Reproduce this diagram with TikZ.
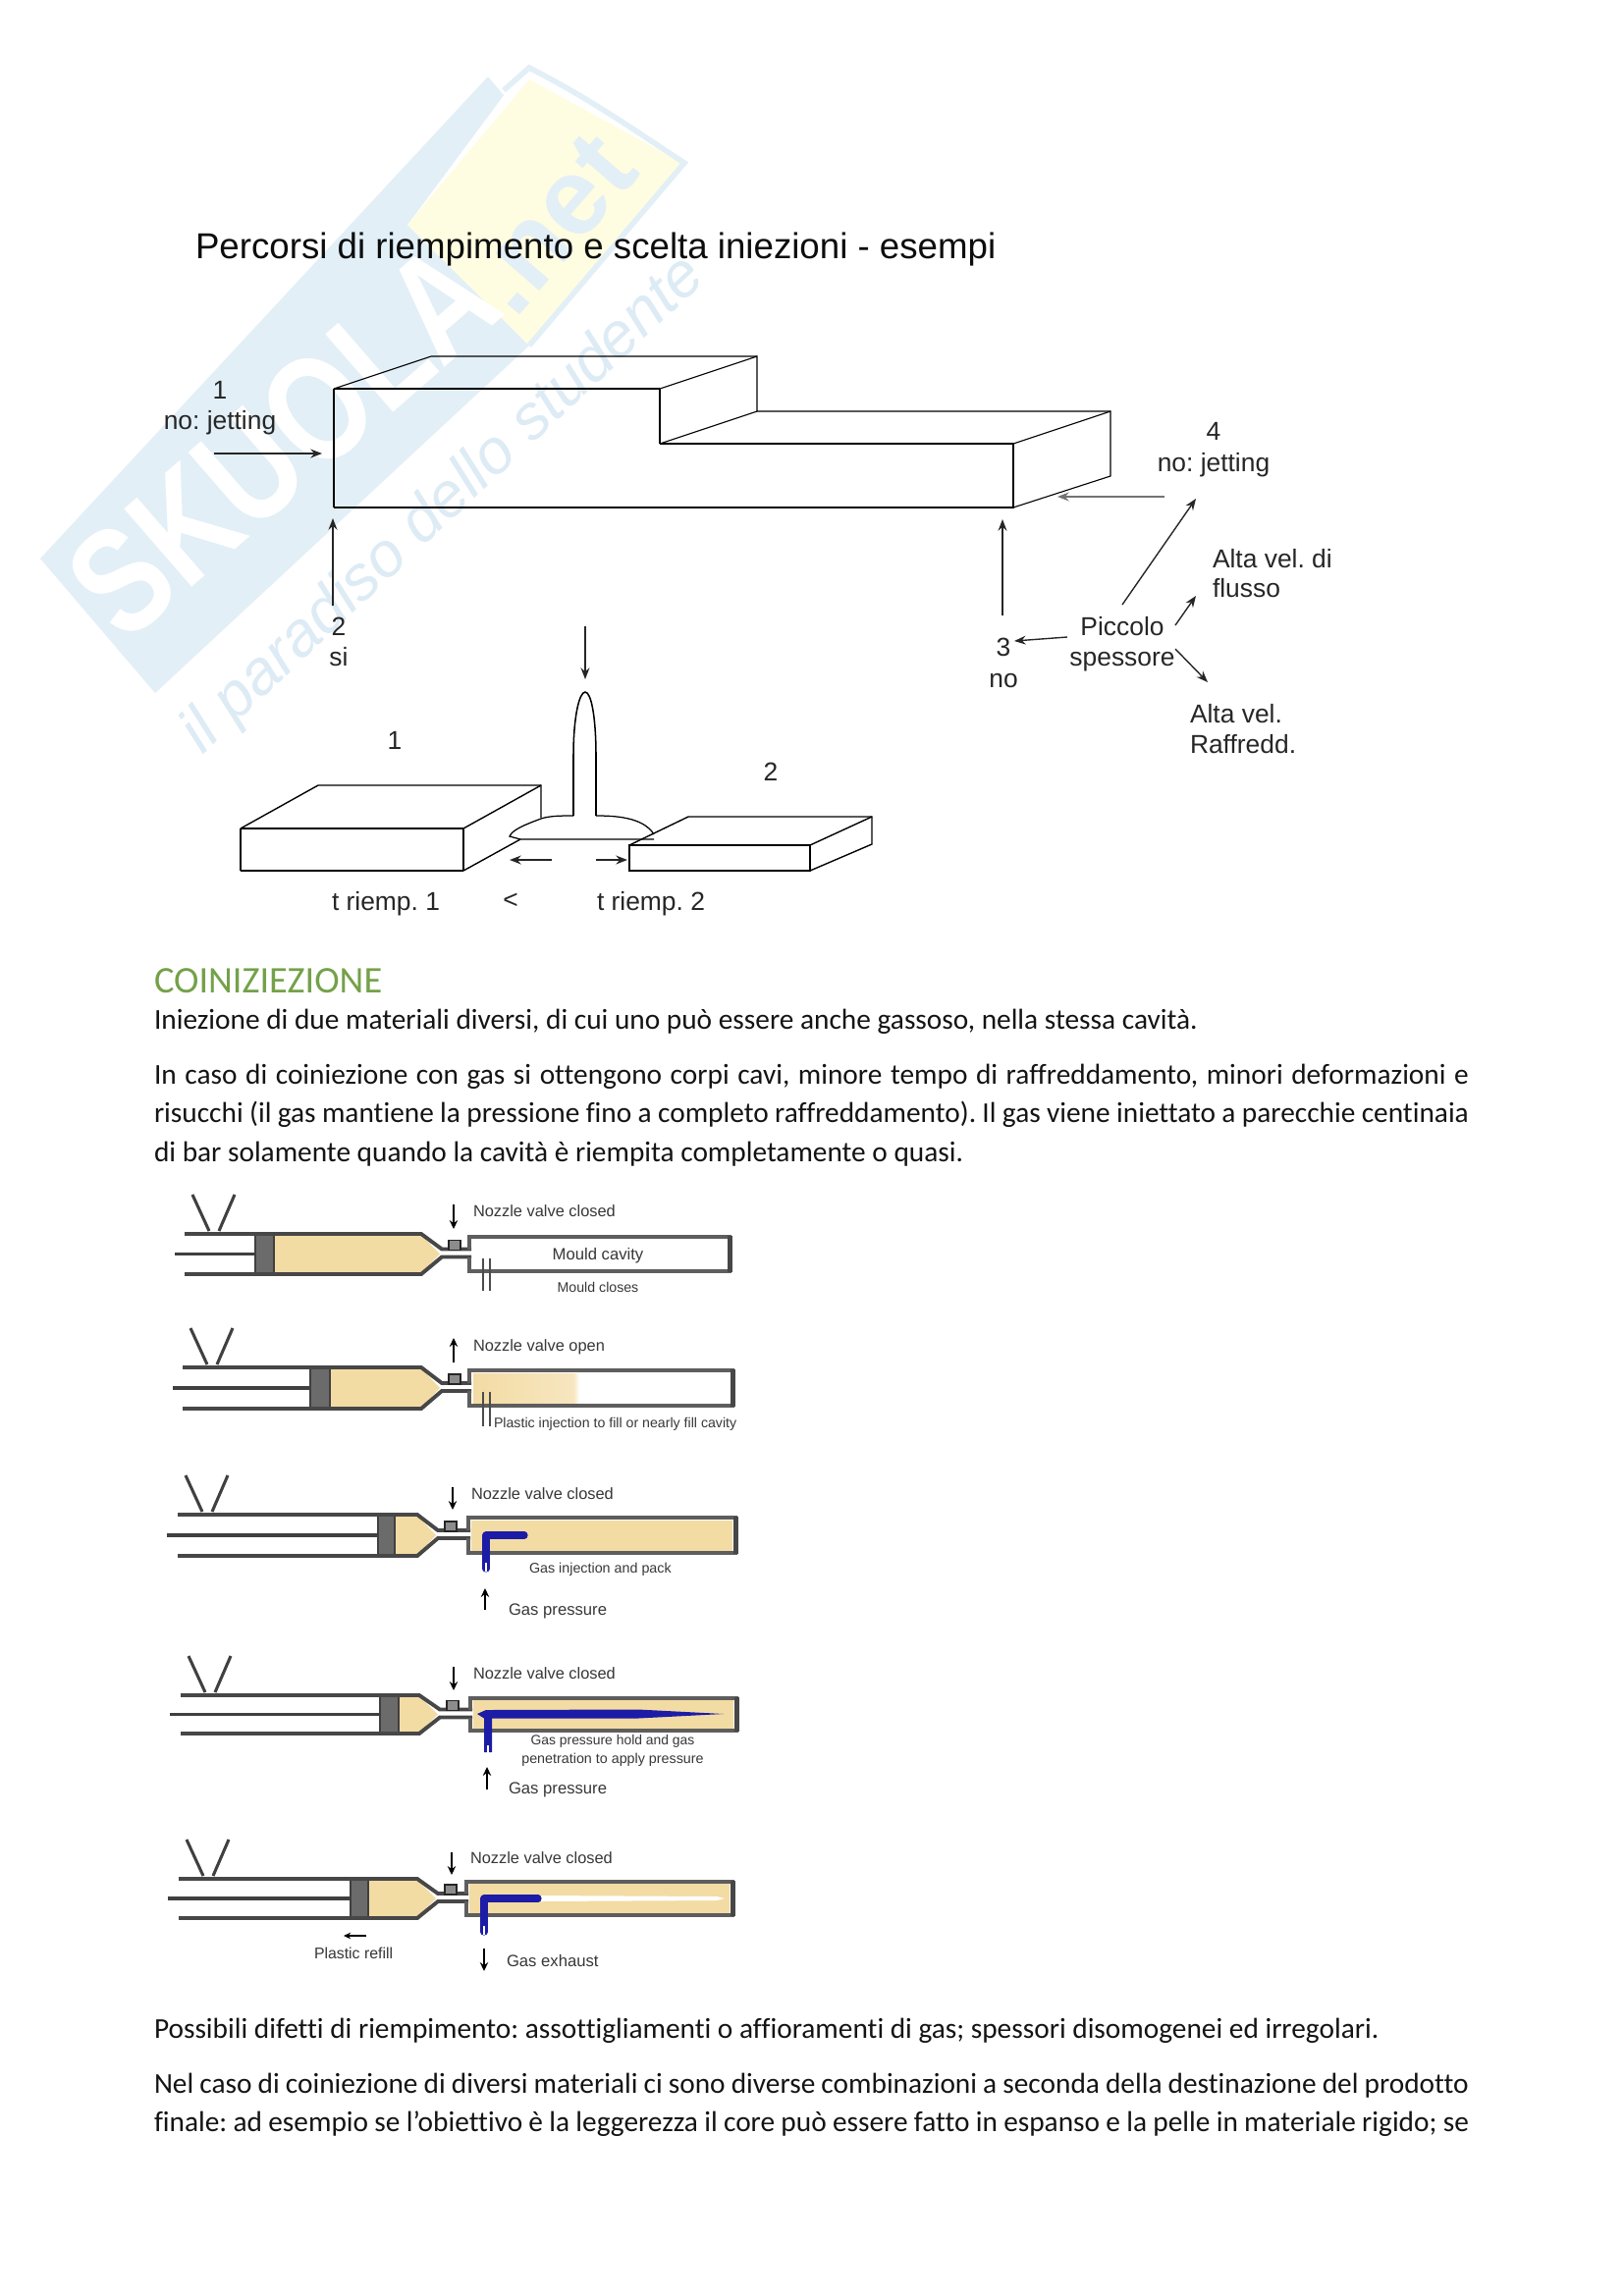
\documentclass[tikz,border=0pt]{standalone}
\usepackage{fontspec}
\setmainfont[Ligatures=CommonOff]{Carlito}
\newfontfamily\arialf{Liberation Sans}
\usetikzlibrary{arrows.meta}
\AtBeginDocument{\frenchspacing}
\definecolor{wmblue}{HTML}{E2EFF7}
\definecolor{wmyellow}{HTML}{FFFDE1}
\definecolor{wmscript}{HTML}{DDEBF5}
\definecolor{headgreen}{HTML}{74A149}
\definecolor{plastic}{HTML}{F3DBA4}
\definecolor{plasticlt}{HTML}{F9E8C2}
\definecolor{gasblue}{HTML}{1C1CA6}
\definecolor{walls}{HTML}{5E5E5E}
\tikzset{
  x=0.3599pt,y=-0.3599pt,
  txt/.style={inner sep=0pt,outer sep=0pt},
  body/.style={txt,anchor=base west,font=\fontsize{10.56}{14}\selectfont,text=black!92},
  lab/.style={txt,anchor=base,font=\arialf\fontsize{9.5}{11}\selectfont,text=black!85},
  labw/.style={lab,anchor=base west},
  small/.style={txt,anchor=base west,text=black!78,font=\arialf\fontsize{#1}{7}\selectfont},
  smallc/.style={small=#1,anchor=base},
  front/.style={line width=0.75pt,black},
  back/.style={line width=0.4pt,black},
  arr/.style={line width=0.5pt,black!85,-{Stealth[length=4.2pt,width=3.2pt]}},
  panarr/.style={line width=1pt,black,-{Stealth[length=3.2pt,width=3pt]}},
  wall/.style={line width=1.4pt,walls},
  tube/.style={line width=1.4pt,black!72},
}
\newcommand{\jline}[1]{\hbox to 481.9pt{#1}}
% shoulder, T, B, cylL, rodL, pistL, pistR, mouldL, mouldR
\newcommand{\injector}[9]{%
  \pgfmathsetmacro\pmid{(#2+#3)/2}
  \shade[top color=plastic,middle color=plasticlt,bottom color=plastic]
    (#7,#2+1) -- (#1,#2+1) -- (#1+19,\pmid) -- (#1,#3-1) -- (#7,#3-1) -- cycle;
  \draw[line width=1.3pt,black!75] (#5,\pmid) -- (#6,\pmid);
  \draw[fill=black!58,draw=black!75,line width=0.4pt] (#6,#2+1) rectangle (#7,#3-1);
  \draw[tube] (#4,#2) -- (#1,#2) -- (#1+21,\pmid-5) -- (#8+2,\pmid-5);
  \draw[tube] (#4,#3) -- (#1,#3) -- (#1+21,\pmid+3) -- (#8+2,\pmid+3);
  \draw[fill=black!45,draw=black!85,line width=0.6pt] (#1+28,\pmid-14) rectangle (#1+40,\pmid-4);
  \draw[line width=1.1pt,black!75] (#4+8,#2-40) -- (#4+25,#2-3);
  \draw[line width=1.1pt,black!75] (#4+51,#2-40) -- (#4+35,#2-3);
  \draw[wall] (#8,\pmid-5) -- (#8,#2+3) -- (#9,#2+3) -- (#9,#3-3) -- (#8,#3-3) -- (#8,\pmid+3);
  \draw[line width=1.8pt,black!72] (#9,#2+2) -- (#9,#3-2);
}
\begin{document}
\begin{tikzpicture}
\useasboundingbox (0,0) rectangle (1654,2339);
\fill[white] (0,0) rectangle (1654,2339);
% watermark
\fill[wmblue] (41,569) -- (497,78) -- (513,97) -- (415,229) -- (539,352) -- (158,706) -- cycle;
\fill[wmyellow] (539,81) -- (695,166) -- (539,352) -- (415,229) -- cycle;
\draw[wmblue,line width=2pt] (513,92) -- (539,69) .. controls (600,100) and (650,135) .. (697,166) -- (539,352);
\node[txt,rotate=41,text=white,font=\arialf\bfseries\fontsize{55}{55}\selectfont] (wmname) at (288,448) {\scalebox{0.8}[1]{SKUOLA}};
\node[txt,rotate=49,text=wmblue,font=\arialf\bfseries\fontsize{40}{40}\selectfont] (wmnet) at (562,228) {.net};
\node[txt,rotate=43.3,text=wmscript,font=\arialf\itshape\fontsize{23}{23}\selectfont] (wmscr) at (452,515) {il paradiso dello studente};
% title
\node[txt,anchor=base west,font=\arialf\fontsize{13.2}{16}\selectfont,text=black!95] (title) at (199,263) {Percorsi di riempimento e scelta iniezioni - esempi};
% stepped block
\draw[back] (340,396) -- (439,363) -- (771,363) -- (771,419) -- (1131,419) -- (1131,485) -- (1032,517);
\draw[back] (672,396) -- (771,363);
\draw[back] (672,452) -- (771,419);
\draw[back] (1032,452) -- (1131,419);
\draw[back] (340,396) -- (340,517);
\draw[back] (672,396) -- (672,452);
\draw[front] (340,396) -- (672,396);
\draw[front] (672,452) -- (1032,452) -- (1032,517) -- (340,517);
% labels top
\node[lab] (one) at (224,406) {1};
\node[lab] (jetL) at (224,437) {no: jetting};
\coordinate (a1s) at (218,462); \coordinate (a1e) at (328,462);
\draw[arr] (a1s) -- (a1e);
\coordinate (a2s) at (339,617); \coordinate (a2e) at (339,528);
\draw[arr] (a2s) -- (a2e);
\node[lab] (two) at (345,647) {2};
\node[lab] (si) at (345,678) {si};
\node[lab] (four) at (1236,448) {4};
\node[lab] (jetR) at (1236,480) {no: jetting};
\coordinate (a4s) at (1186,506); \coordinate (a4e) at (1077,506);
\draw[arr,black!55] (a4s) -- (a4e);
\node[lab] (picA) at (1143,647) {Piccolo};
\node[lab] (picB) at (1143,678) {spessore};
\coordinate (b1s) at (1143,616); \coordinate (b1e) at (1218,508);
\draw[arr] (b1s) -- (b1e);
\coordinate (b2s) at (1197,637); \coordinate (b2e) at (1218,607);
\draw[arr] (b2s) -- (b2e);
\coordinate (b3s) at (1197,661); \coordinate (b3e) at (1230,695);
\draw[arr] (b3s) -- (b3e);
\coordinate (b4s) at (1087,649); \coordinate (b4e) at (1033,653);
\draw[arr] (b4s) -- (b4e);
\coordinate (b5s) at (1021,627); \coordinate (b5e) at (1021,529);
\draw[arr] (b5s) -- (b5e);
\node[lab] (three) at (1022,668) {3};
\node[lab] (no) at (1022,700) {no};
\node[labw] (alta1) at (1235,578) {Alta vel. di};
\node[labw] (alta2) at (1235,608) {flusso};
\node[labw] (alta3) at (1212,736) {Alta vel.};
\node[labw] (alta4) at (1212,767) {Raffredd.};
% two-plate part
\coordinate (c1s) at (596,638); \coordinate (c1e) at (596,692);
\draw[arr] (c1s) -- (c1e);
\draw[line width=0.55pt] (584,831) -- (584,770) .. controls (584,730) and (590,705) .. (596,705) .. controls (602,705) and (607,730) .. (607,770) -- (607,831);
\draw[line width=0.45pt] (584,831) .. controls (572,831) and (560,831) .. (551,834) .. controls (535,840) and (522,845) .. (519,852) -- (530,855) -- (666,855);
\draw[line width=0.45pt] (607,831) .. controls (625,831) and (655,832) .. (666,850);
\draw[line width=0.5pt] (245,844) -- (324,800) -- (551,800) -- (551,833);
\draw[line width=0.5pt] (472,844) -- (551,800);
\draw[line width=0.5pt] (472,887) -- (530,855);
\draw[line width=0.5pt] (245,844) -- (472,844) -- (472,887);
\draw[line width=0.5pt] (245,844) -- (245,887);
\draw[line width=0.9pt] (245,887) -- (472,887);
\draw[line width=0.5pt] (641,861) -- (701,832) -- (888,832) -- (888,860) -- (825,887);
\draw[line width=0.5pt] (825,861) -- (888,832);
\draw[line width=0.8pt] (641,861) -- (825,861) -- (825,887) -- (641,887) -- cycle;
\coordinate (d1s) at (562,876); \coordinate (d1e) at (519,876);
\draw[arr] (d1s) -- (d1e);
\coordinate (d2s) at (607,876); \coordinate (d2e) at (639,876);
\draw[arr] (d2s) -- (d2e);
\node[lab] (n1) at (402,763) {1};
\node[lab] (n2) at (785,795) {2};
\node[labw] (t1) at (338,927) {t riemp. 1};
\node[lab] (lt) at (520,925) {<};
\node[labw] (t2) at (608,927) {t riemp. 2};
% body text
\node[txt,anchor=base west,font=\fontsize{13.8}{16}\selectfont,text=headgreen] (head) at (157,1011) {COINIZIEZIONE};
\node[body] (l1) at (157,1048) {Iniezione di due materiali diversi, di cui uno può essere anche gassoso, nella stessa cavità.};
\node[body] (l2) at (157,1104) {\jline{In caso di coiniezione con gas si ottengono corpi cavi, minore tempo di raffreddamento, minori deformazioni e}};
\node[body] (l3) at (157,1143) {\jline{risucchi (il gas mantiene la pressione fino a completo raffreddamento). Il gas viene iniettato a parecchie centinaia}};
\node[body] (l4) at (157,1183) {di bar solamente quando la cavità è riempita completamente o quasi.};
\node[body] (l5) at (157,2076) {Possibili difetti di riempimento: assottigliamenti o affioramenti di gas; spessori disomogenei ed irregolari.};
\node[body] (l6) at (157,2132) {\jline{Nel caso di coiniezione di diversi materiali ci sono diverse combinazioni a seconda della destinazione del prodotto}};
\node[body] (l7) at (157,2171) {\jline{finale: ad esempio se l’obiettivo è la leggerezza il core può essere fatto in espanso e la pelle in materiale rigido; se}};
% panel 1
\injector{429}{1257}{1298}{188}{178}{260}{279}{478}{743}
\draw[line width=0.6pt,black!70] (492,1282) -- (492,1315) (499,1282) -- (499,1315);
\coordinate (p1a) at (462,1227); \coordinate (p1b) at (462,1252);
\draw[panarr] (p1a) -- (p1b);
\node[small=5.9] (p1t) at (482,1239) {Nozzle valve closed};
\node[smallc=6] (p1m) at (609,1283) {Mould cavity};
\node[smallc=5.1] (p1c) at (609,1316) {Mould closes};
% panel 2
\shade[left color=plastic,right color=plastic!70] (482,1399) rectangle (584,1430);
\shade[left color=plastic!70,right color=white] (584,1399) rectangle (590,1430);
\injector{429}{1393}{1435}{186}{176}{316}{336}{478}{746}
\draw[line width=0.6pt,black!70] (492,1418) -- (492,1453) (499,1418) -- (499,1453);
\coordinate (p2a) at (462,1388); \coordinate (p2b) at (462,1363);
\draw[panarr] (p2a) -- (p2b);
\node[small=5.9] (p2t) at (482,1376) {Nozzle valve open};
\node[small=5.1] (p2i) at (503,1454) {Plastic injection to fill or nearly fill cavity};
% panel 3
\shade[top color=plastic,middle color=plasticlt,bottom color=plastic] (480,1549) rectangle (746,1580);
\injector{425}{1543}{1585}{181}{170}{385}{402}{477}{749}
\draw[gasblue,line width=2.6pt,line cap=round,line join=round] (534,1564) -- (495,1564) -- (495,1598);
\draw[white,line width=0.5pt] (495,1592) -- (495,1601);
\coordinate (p3a) at (461,1515); \coordinate (p3b) at (461,1538);
\draw[panarr] (p3a) -- (p3b);
\coordinate (p3c) at (494,1640); \coordinate (p3d) at (494,1618);
\draw[panarr] (p3c) -- (p3d);
\node[small=5.9] (p3t) at (480,1527) {Nozzle valve closed};
\node[small=5.15] (p3i) at (539,1602) {Gas injection and pack};
\node[small=6] (p3g) at (518,1645) {Gas pressure};
% panel 4
\shade[top color=plastic,middle color=plasticlt,bottom color=plastic] (482,1731) rectangle (747,1762);
\injector{427}{1727}{1766}{184}{173}{387}{406}{479}{750}
\fill[gasblue] (486,1746) -- (495,1742) -- (650,1741.5) -- (737,1746) -- (650,1750.5) -- (501,1750.5) -- (501,1785) -- (493,1785) -- (493,1750.5) -- cycle;
\draw[white,line width=0.5pt] (497,1778) -- (497,1786);
\coordinate (p4a) at (462,1698); \coordinate (p4b) at (462,1722);
\draw[panarr] (p4a) -- (p4b);
\coordinate (p4c) at (496,1823); \coordinate (p4d) at (496,1800);
\draw[panarr] (p4c) -- (p4d);
\node[small=5.9] (p4t) at (482,1710) {Nozzle valve closed};
\node[smallc=5] (p4x) at (624,1777) {Gas pressure hold and gas};
\node[smallc=5.15] (p4y) at (624,1796) {penetration to apply pressure};
\node[small=6] (p4g) at (518,1827) {Gas pressure};
% panel 5
\shade[top color=plastic,middle color=plasticlt,bottom color=plastic] (478,1919) rectangle (743,1950);
\fill[white] (549,1931) -- (730,1932) -- (738,1934) -- (730,1936) -- (549,1937) -- cycle;
\injector{425}{1914}{1954}{182}{171}{357}{375}{475}{746}
\draw[gasblue,line width=2.6pt,line cap=round,line join=round] (548,1934) -- (493,1934) -- (493,1968);
\draw[white,line width=0.5pt] (493,1962) -- (493,1971);
\coordinate (p5a) at (460,1887); \coordinate (p5b) at (460,1910);
\draw[panarr] (p5a) -- (p5b);
\coordinate (p5c) at (373,1972); \coordinate (p5d) at (350,1972);
\draw[line width=0.7pt,black,-{Stealth[length=2.6pt,width=2.4pt]}] (p5c) -- (p5d);
\coordinate (p5e) at (493,1985); \coordinate (p5f) at (493,2008);
\draw[panarr] (p5e) -- (p5f);
\node[small=5.9] (p5t) at (479,1898) {Nozzle valve closed};
\node[small=5.7] (p5r) at (320,1995) {Plastic refill};
\node[small=6] (p5g) at (516,2003) {Gas exhaust};
\end{tikzpicture}
\end{document}
